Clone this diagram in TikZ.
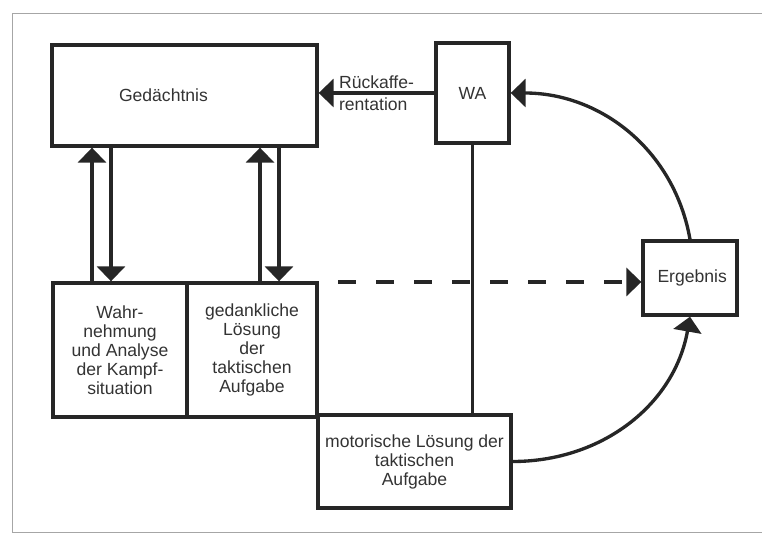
\documentclass[tikz,border=0pt]{standalone}
\usepackage{fontspec}
\setmainfont{Liberation Sans}
\usetikzlibrary{positioning}
\usetikzlibrary{arrows.meta,calc}

\begin{document}
\begin{tikzpicture}[
	x=0.2mm, y=0.2mm,
	box/.style={rectangle, draw=black!85, line width=1.9pt, inner sep=0pt, align=center, text=black!80, font=\fontsize{10}{10.8}\selectfont},
	link/.style={draw=black!85, line width=1.9pt},
	arr/.style={link, -{Triangle[length=3mm,width=5.6mm]}},
	]
	\useasboundingbox (0,0) rectangle (762,535);
	\draw[black!35, line width=0.5pt] (12,3) rectangle (800,522);
	%Nodes
	\node[box, minimum width=53mm, minimum height=20.2mm, align=left, text width=26.2mm] (ged) at (184.5,439.5) {Gedächtnis};
	\node[box, minimum width=14.6mm, minimum height=20mm]   (wa)      at (472.5,442) {WA};
	\node[box, minimum width=26.8mm, minimum height=26.8mm] (wahr)    at (120,185)   {Wahr-\\nehmung\\und Analyse\\der Kampf-\\situation};
	\node[box, minimum width=26mm, minimum height=26.8mm]   (loesung) at (252,185)   {gedankliche\\Lösung\\der\\taktischen\\Aufgabe};
	\node[box, minimum width=38.6mm, minimum height=18.6mm] (motor)   at (414.5,73.5) {motorische Lösung der\\taktischen\\Aufgabe};
	\node[box, minimum width=18.8mm, minimum height=14.8mm, align=left, text width=13mm] (erg) at (690,257) {Ergebnis};
	\coordinate (dstart) at (338,253);

	%Connectors
	\draw[arr] (wa.west) -- node[text=black!80, align=left, font=\fontsize{10}{12.5}\selectfont] {Rückaffe-\\rentation} (wa.west -| ged.east);
	\draw[arr] ($(wahr.north)+(-28,0)$) -- ($(wahr.north |- ged.south)+(-28,0)$);
	\draw[arr] ($(wahr.north |- ged.south)+(-9,0)$) -- ($(wahr.north)+(-9,0)$);
	\draw[arr] ($(loesung.north)+(8,0)$) -- ($(loesung.north |- ged.south)+(8,0)$);
	\draw[arr] ($(loesung.north |- ged.south)+(27,0)$) -- ($(loesung.north)+(27,0)$);
	\draw[link] (wa.south) -- (wa.south |- motor.north);
	\draw[arr, dash pattern=on 3.6mm off 4mm] (dstart) -- (dstart -| erg.west);
	\draw[arr] (erg.north) to[out=100, in=0] (wa.east);
	\draw[arr] (motor.east) to[out=0, in=-100] (erg.south);
\end{tikzpicture}
\end{document}
